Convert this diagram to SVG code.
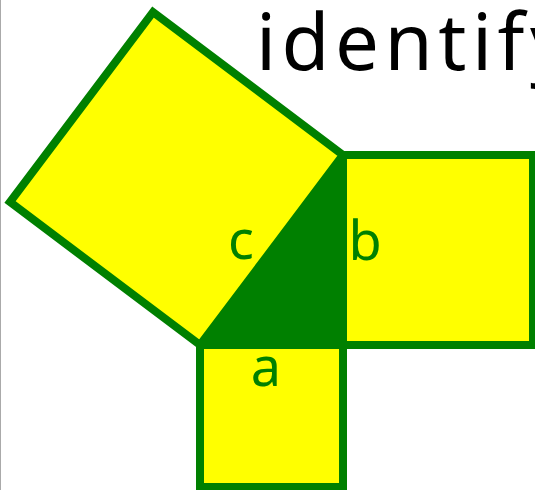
<svg xmlns="http://www.w3.org/2000/svg" width="535" height="490" viewBox="0 0 535 490">
<style>
.sq{fill:#ffff00;stroke:#008000;stroke-width:8;stroke-linejoin:miter}
.tri{fill:#008000;stroke:#008000;stroke-width:1}
.lbl{font-family:"Noto Sans","DejaVu Sans",sans-serif;font-size:54px;fill:#008000}
.title{font-family:"Noto Sans","DejaVu Sans",sans-serif;font-size:78px;fill:#000000}
</style>
<rect x="0" y="0" width="535" height="490" fill="#ffffff"/>
<line x1="0.5" y1="0" x2="0.5" y2="490" stroke="#aaaaaa" stroke-width="1"/>
<g id="square-c"><polygon class="sq" points="200,345 343,155 153,12 10,202"/></g>
<g id="square-b"><polygon class="sq" points="343,155 533,155 533,345 343,345"/></g>
<g id="square-a"><polygon class="sq" points="200,345 343,345 343,487 200,487"/></g>
<g id="triangle"><polygon class="tri" points="200,345 343,155 343,345"/></g>
<g id="labels">
<text class="lbl" x="241" y="259" text-anchor="middle">c</text>
<text class="lbl" x="365" y="260" text-anchor="middle">b</text>
<text class="lbl" x="266" y="386" text-anchor="middle">a</text>
</g>
<g id="title"><text class="title" x="256" y="70" letter-spacing="5.5">identify</text></g>
</svg>
